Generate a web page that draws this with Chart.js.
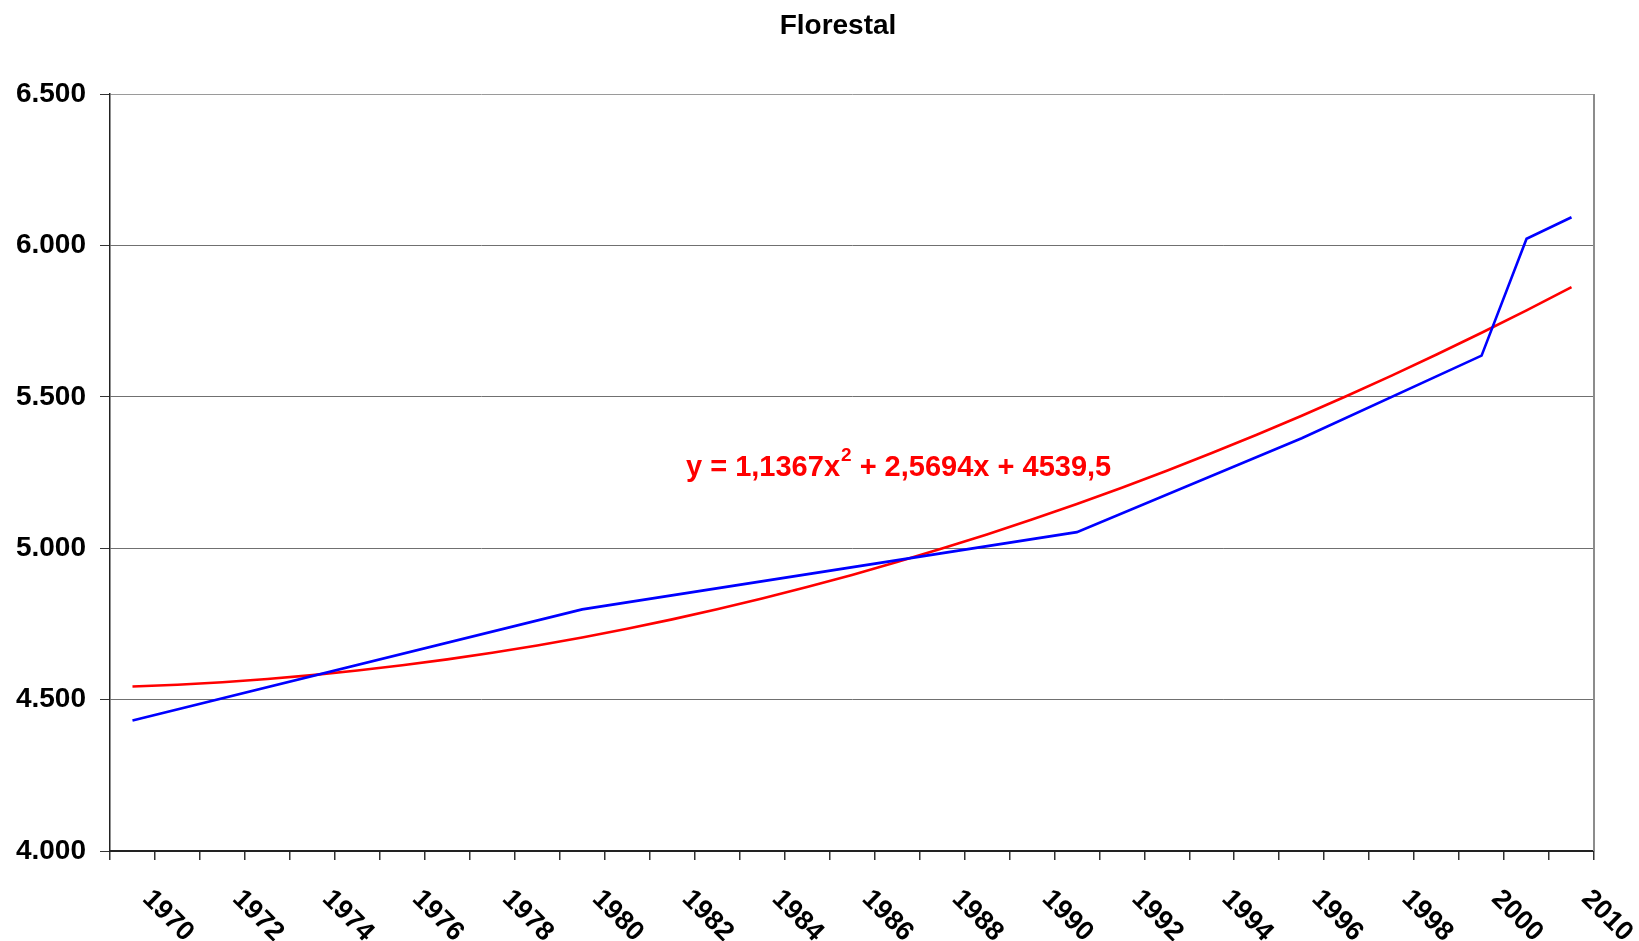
<!DOCTYPE html>
<html>
<head>
<meta charset="utf-8">
<script src="https://cdn.jsdelivr.net/npm/chart.js@4.4.1/dist/chart.umd.min.js"></script>
<style>
  html, body { margin: 0; padding: 0; background: #ffffff; }
  #wrap { width: 1639px; height: 941px; position: relative; }
</style>
</head>
<body>
<div id="wrap"><canvas id="c" width="1639" height="941"></canvas></div>
<script>
// Categories on the x axis (one per year, last two are 2005 and 2010)
const years = [
  1970, 1971, 1972, 1973, 1974, 1975, 1976, 1977, 1978, 1979,
  1980, 1981, 1982, 1983, 1984, 1985, 1986, 1987, 1988, 1989,
  1990, 1991, 1992, 1993, 1994, 1995, 1996, 1997, 1998, 1999,
  2000, 2005, 2010
];

// Observed forest values; years without a reading are null and the line spans them
const forestArea = [
  4431, null, null, null, null, null, null, null, null, null,
  4798, null, null, null, null, null, null, null, null, null,
  null, 5053, null, null, null, null, 5363, null, null, null,
  5636, 6022, 6093
];

// Polynomial trend y = a*x^2 + b*x + c, with x = 1..n over the categories
const trendCoefficients = [1.1367, 2.5694, 4539.5];

// Value axis range and step
const yRange = [4000, 6500];
const yStep = 500;

const chartTitle = 'Florestal';
const FONT = '"Liberation Sans", Arial, Helvetica, sans-serif';

const trendValues = years.map((_, i) => {
  const x = i + 1;
  return trendCoefficients[0] * x * x + trendCoefficients[1] * x + trendCoefficients[2];
});

function thousands(v) {
  return String(v).replace(/\B(?=(\d{3})+(?!\d))/g, '.');
}
function decimalComma(v) {
  return String(v).replace('.', ',');
}

// Title, rotated year labels, trend equation and the right frame edge
const decorations = {
  id: 'decorations',
  beforeDatasetsDraw(chart) {
    const { ctx, chartArea } = chart;
    ctx.save();
    ctx.strokeStyle = '#8c8c8c';
    ctx.lineWidth = 2;
    ctx.beginPath();
    ctx.moveTo(chartArea.right, chartArea.top);
    ctx.lineTo(chartArea.right, chartArea.bottom);
    ctx.stroke();
    ctx.restore();
  },
  afterDraw(chart) {
    const { ctx, chartArea } = chart;
    const xs = chart.scales.x;
    ctx.save();

    // title
    ctx.fillStyle = '#000000';
    ctx.font = 'bold 28px ' + FONT;
    ctx.textAlign = 'center';
    ctx.textBaseline = 'alphabetic';
    ctx.fillText(chartTitle, 838, 34);

    // year labels, every other category, rotated clockwise
    ctx.font = 'bold 27px ' + FONT;
    ctx.textAlign = 'left';
    years.forEach((yr, i) => {
      if (i % 2 !== 0) return;
      const px = xs.getPixelForValue(i);
      ctx.save();
      ctx.translate(px + 9, chartArea.bottom + 49);
      ctx.rotate(Math.PI / 4);
      ctx.fillText(String(yr), 0, 0);
      ctx.restore();
    });

    // trend equation
    const [a, b, c] = trendCoefficients;
    const main = 'bold 29px ' + FONT;
    const sup = 'bold 19px ' + FONT;
    let x = chartArea.left + 576;
    const base = 476;
    ctx.fillStyle = '#ff0000';
    ctx.font = main;
    const part1 = 'y = ' + decimalComma(a) + 'x';
    ctx.fillText(part1, x, base);
    x += ctx.measureText(part1).width;
    ctx.font = sup;
    ctx.fillText('2', x + 1, base - 15);
    x += ctx.measureText('2').width + 1;
    ctx.font = main;
    ctx.fillText(' + ' + decimalComma(b) + 'x + ' + decimalComma(c), x, base);

    ctx.restore();
  }
};

new Chart(document.getElementById('c'), {
  type: 'line',
  data: {
    labels: years,
    datasets: [
      {
        label: 'Florestal',
        data: forestArea,
        borderColor: '#0000ff',
        borderWidth: 2.6,
        pointRadius: 0,
        tension: 0,
        spanGaps: true,
        order: 0
      },
      {
        label: 'Tendência',
        data: trendValues,
        borderColor: '#ff0000',
        borderWidth: 2.6,
        pointRadius: 0,
        tension: 0,
        order: 1
      }
    ]
  },
  options: {
    responsive: false,
    devicePixelRatio: 1,
    animation: false,
    layout: { padding: { top: 94, right: 45, bottom: 0, left: 0 } },
    plugins: {
      legend: { display: false },
      title: { display: false },
      tooltip: { enabled: false }
    },
    scales: {
      x: {
        type: 'category',
        offset: true,
        grid: {
          offset: true,
          drawOnChartArea: false,
          drawTicks: true,
          tickLength: 9,
          tickColor: '#333333',
          lineWidth: 1.5
        },
        border: { display: true, color: '#222222', width: 2 },
        ticks: { display: false, autoSkip: false },
        afterFit(scale) { scale.height = 90; }
      },
      y: {
        min: yRange[0],
        max: yRange[1],
        grid: {
          color: (ctx) => {
            const v = ctx.tick && ctx.tick.value;
            if (v === yRange[0]) return 'rgba(0,0,0,0)';
            if (v === yRange[1]) return '#9a9a9a';
            return '#707070';
          },
          lineWidth: 1,
          drawTicks: true,
          tickLength: 10,
          tickColor: '#333333'
        },
        border: { display: true, color: '#222222', width: 1.5 },
        ticks: {
          stepSize: yStep,
          padding: 14,
          color: '#000000',
          font: { family: FONT, size: 28, weight: 'bold' },
          callback: (v) => thousands(v)
        },
        afterFit(scale) { scale.width = 110; }
      }
    }
  },
  plugins: [decorations]
});
</script>
</body>
</html>
